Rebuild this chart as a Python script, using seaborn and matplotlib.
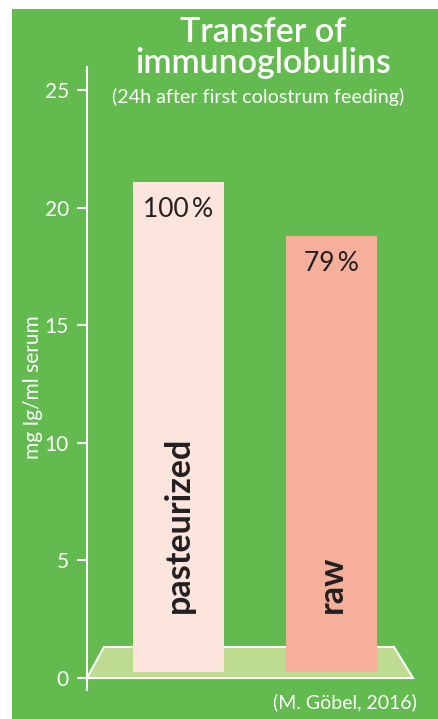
import matplotlib
matplotlib.use("Agg")
import matplotlib.pyplot as plt
from matplotlib.patches import Rectangle, Polygon
import seaborn as sns
import pandas as pd

# ---- data ----
categories = ["pasteurized", "raw"]
values = [21.1, 18.8]            # mg Ig/ml serum (top of bars)
pct_labels = ["100\u2009%", "79\u2009%"]
yticks = [0, 5, 10, 15, 20, 25]
bar_colors = ["#fce5dc", "#f5af9b"]

title_lines = ["Transfer of", "immunoglobulins"]
subtitle = "(24h after first colostrum feeding)"
ylabel = "mg Ig/ml serum"
source = "(M. Göbel, 2016)"

GREEN = "#63ba4f"
FLOOR = "#bedc90"
W, H = 438, 719

sns.set_theme(style="white")
plt.rcParams["font.family"] = ["Lato", "DejaVu Sans"]

fig = plt.figure(figsize=(W / 100, H / 100), dpi=100)
fig.patch.set_facecolor("white")
fig.patches.append(Rectangle((12 / W, 0), 1 - 12 / W, (H - 9) / H,
                             transform=fig.transFigure, facecolor=GREEN,
                             edgecolor="none", zorder=-10))

# axes box in pixels: y=0 at 678 px, 23.52 px per unit
top_px, bot_px = 66.5, 689.8
left_px, right_px = 87, 438
ax = fig.add_axes([left_px / W, (H - bot_px) / H,
                   (right_px - left_px) / W, (bot_px - top_px) / H])
ax.set_facecolor("none")
ax.set_zorder(5)

df = pd.DataFrame({"cat": categories, "val": values})
sns.barplot(data=df, x="cat", y="val", hue="cat", palette=bar_colors,
            saturation=1, width=0.595, legend=False, ax=ax, zorder=3,
            linewidth=0)

base = 0.26
for p in ax.patches:
    top = p.get_y() + p.get_height()
    p.set_y(base)
    p.set_height(top - base)

ax.set_xlim(-0.598, 1.696)
ax.set_ylim(-0.5, 26)

# floor (decorative platform)
floor = Polygon([(-0.598, 0), (1.533, 0), (1.408, 1.32), (-0.487, 1.32)],
                closed=True, facecolor=FLOOR, edgecolor="white",
                linewidth=1.5, zorder=2, clip_on=False)
ax.add_patch(floor)

for i, (v, lab, cat) in enumerate(zip(values, pct_labels, categories)):
    ax.text(i, v - 1.17, lab, ha="center", va="center", fontsize=19,
            color="#231f20", zorder=5)
    ax.text(i, 2.76, cat, rotation=90, ha="center", va="bottom",
            fontsize=24.5, fontweight="bold", color="#231f20", zorder=5)

for s in ["top", "right", "bottom"]:
    ax.spines[s].set_visible(False)
ax.spines["left"].set_color("white")
ax.spines["left"].set_linewidth(1.5)
ax.set_xticks([])
ax.set_yticks(yticks)
ax.set_yticklabels([str(t) for t in yticks])
ax.tick_params(axis="y", colors="white", length=7.2, width=1.5, pad=5.8,
               labelsize=15, left=True)
ax.set_xlabel("")
ax.set_ylabel("")

fig.text(33 / W, 1 - 387 / H, ylabel, rotation=90, ha="center", va="center",
         color="white", fontsize=15)

fig.text(263 / W, 1 - 42 / H, title_lines[0], ha="center", va="baseline",
         color="white", fontsize=24.5, fontweight="semibold")
fig.text(263 / W, 1 - 73 / H, title_lines[1], ha="center", va="baseline",
         color="white", fontsize=24.5, fontweight="semibold")
fig.text(258 / W, 1 - 103 / H, subtitle, ha="center", va="baseline",
         color="white", fontsize=14.2)
fig.text(417 / W, 1 - 708 / H, source, ha="right", va="baseline",
         color="white", fontsize=14)

fig.savefig("out.png", dpi=100, facecolor=fig.get_facecolor())
